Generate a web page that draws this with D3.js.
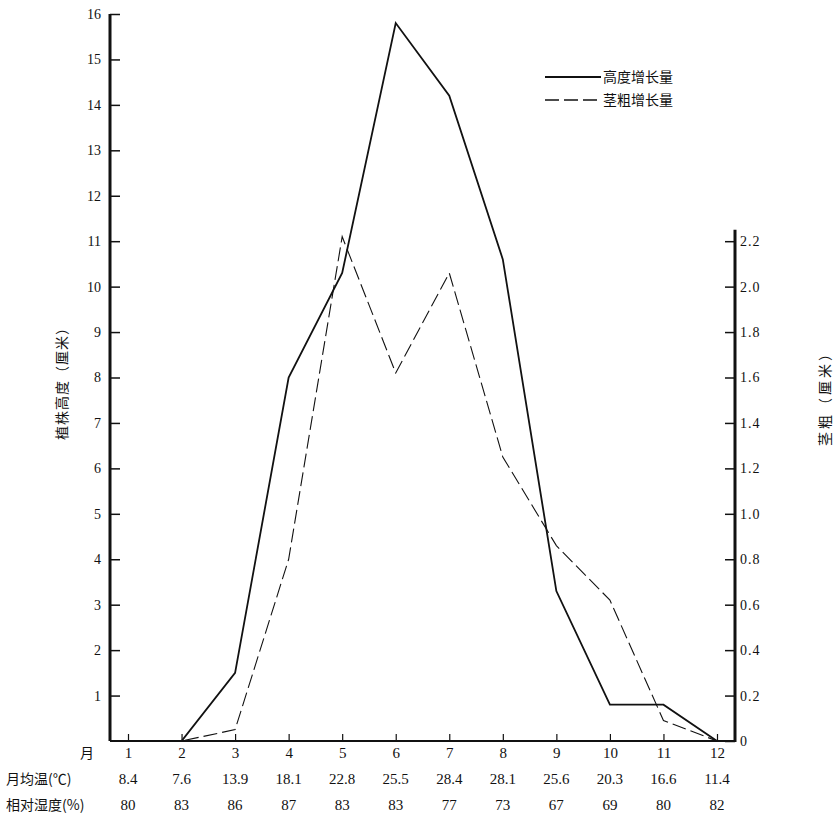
<!DOCTYPE html>
<html>
<head>
<meta charset="utf-8">
<script src="https://cdn.jsdelivr.net/npm/d3@7/dist/d3.min.js"></script>
<style>
  body { margin: 0; background: #fff; }
  svg text { fill: #111; }
  .num { font-family: "Liberation Serif", "DejaVu Serif", serif; font-size: 14px; }
  .cjk { font-family: "Noto Sans CJK SC", sans-serif; font-size: 14px; }
  .row { font-size: 15px; }
</style>
</head>
<body>
<div id="chart"></div>
<script>
// months and the two growth series
var months = [1, 2, 3, 4, 5, 6, 7, 8, 9, 10, 11, 12];
var heightGrowth = [0, 0, 1.5, 8.0, 10.3, 15.8, 14.2, 10.6, 3.3, 0.8, 0.8, 0];   // 厘米, left axis
var stemGrowth = [0, 0, 0.05, 0.8, 2.22, 1.62, 2.06, 1.25, 0.86, 0.62, 0.09, 0]; // 厘米, right axis

// table rows under the axis
var tempRow = ["8.4", "7.6", "13.9", "18.1", "22.8", "25.5", "28.4", "28.1", "25.6", "20.3", "16.6", "11.4"];
var humidRow = ["80", "83", "86", "87", "83", "83", "77", "73", "67", "69", "80", "82"];

var leftTicks = d3.range(1, 17);
var rightTicks = [0, 0.2, 0.4, 0.6, 0.8, 1.0, 1.2, 1.4, 1.6, 1.8, 2.0, 2.2];

var width = 838, height = 819;
var left = 110, right = 735, base = 741;

var svg = d3.select("#chart")
    .append("svg")
    .attr("width", width)
    .attr("height", height);

var x = d3.scaleLinear().domain([1, 12]).range([128, 717]);
var yL = d3.scaleLinear().domain([0, 16]).range([base, 14]);
var yR = d3.scaleLinear().domain([0, 3.2]).range([base, 14]);

// left axis
var gl = svg.append("g")
    .attr("transform", "translate(" + left + ",0)")
    .call(d3.axisLeft(yL).tickValues(leftTicks).tickSize(-10).tickSizeOuter(0).tickPadding(9));
gl.select(".domain").remove();
gl.selectAll("line").attr("stroke", "#111").attr("stroke-width", 1.5);
gl.selectAll("text").attr("class", "num").attr("fill", "#111");
svg.append("line")
    .attr("x1", left).attr("x2", left)
    .attr("y1", yL(16)).attr("y2", base)
    .attr("stroke", "#111").attr("stroke-width", 3);

// right axis
var gr = svg.append("g")
    .attr("transform", "translate(" + right + ",0)")
    .call(d3.axisRight(yR).tickValues(rightTicks).tickSize(-10).tickSizeOuter(0).tickPadding(5)
      .tickFormat(function(d){ return d === 0 ? "0" : d3.format(".1f")(d); }));
gr.select(".domain").remove();
gr.selectAll("line").attr("stroke", "#111").attr("stroke-width", 1.5);
gr.selectAll("text").attr("class", "num").attr("fill", "#111").attr("letter-spacing", "1px");
svg.append("line")
    .attr("x1", right).attr("x2", right)
    .attr("y1", yR(2.25)).attr("y2", base + 1)
    .attr("stroke", "#111").attr("stroke-width", 3);

// bottom axis (months)
var gb = svg.append("g")
    .attr("transform", "translate(0," + base + ")")
    .call(d3.axisBottom(x).tickValues(months).tickSize(-7).tickSizeOuter(0).tickPadding(6));
gb.select(".domain").remove();
gb.selectAll("line").attr("stroke", "#111").attr("stroke-width", 1.2);
gb.selectAll("text").attr("class", "num row").attr("fill", "#111");
svg.append("line")
    .attr("x1", left).attr("x2", right)
    .attr("y1", base).attr("y2", base)
    .attr("stroke", "#111").attr("stroke-width", 2);

// series
var lineL = d3.line().x(function(d, i){ return x(months[i]); }).y(function(d){ return yL(d); });
var lineR = d3.line().x(function(d, i){ return x(months[i]); }).y(function(d){ return yR(d); });

svg.append("path")
    .datum(heightGrowth)
    .attr("d", lineL)
    .attr("fill", "none")
    .attr("stroke", "#111")
    .attr("stroke-width", 1.8);

svg.append("path")
    .datum(stemGrowth)
    .attr("d", lineR)
    .attr("fill", "none")
    .attr("stroke", "#111")
    .attr("stroke-width", 1.1)
    .attr("stroke-dasharray", "14,5");

// legend
var legend = svg.append("g").attr("transform", "translate(545,0)");
legend.append("line").attr("x1", 0).attr("x2", 56).attr("y1", 77).attr("y2", 77)
    .attr("stroke", "#111").attr("stroke-width", 1.8);
legend.append("line").attr("x1", 0).attr("x2", 56).attr("y1", 100).attr("y2", 100)
    .attr("stroke", "#111").attr("stroke-width", 1.3).attr("stroke-dasharray", "14,5");
legend.append("text").attr("class", "cjk").attr("x", 58).attr("y", 82).text("高度增长量");
legend.append("text").attr("class", "cjk").attr("x", 58).attr("y", 105).text("茎粗增长量");

// axis titles
svg.append("text")
    .attr("class", "cjk")
    .attr("letter-spacing", "1px")
    .attr("transform", "translate(67,380) rotate(-90)")
    .attr("text-anchor", "middle")
    .text("植株高度（厘米）");
svg.append("text")
    .attr("class", "cjk")
    .attr("letter-spacing", "3px")
    .attr("transform", "translate(830,395) rotate(-90)")
    .attr("text-anchor", "middle")
    .text("茎粗（厘米）");

// table under the chart
svg.append("text").attr("class", "cjk").attr("x", 80).attr("y", 758).text("月");
svg.append("text").attr("class", "cjk").attr("x", 6).attr("y", 784).text("月均温(℃)");
svg.append("text").attr("class", "cjk").attr("x", 6).attr("y", 810).text("相对湿度(%)");

svg.selectAll("text.temp")
    .data(tempRow)
  .enter().append("text")
    .attr("class", "num row temp")
    .attr("text-anchor", "middle")
    .attr("x", function(d, i){ return x(months[i]); })
    .attr("y", 784)
    .text(function(d){ return d; });

svg.selectAll("text.humid")
    .data(humidRow)
  .enter().append("text")
    .attr("class", "num row humid")
    .attr("text-anchor", "middle")
    .attr("x", function(d, i){ return x(months[i]); })
    .attr("y", 810)
    .text(function(d){ return d; });
</script>
</body>
</html>
